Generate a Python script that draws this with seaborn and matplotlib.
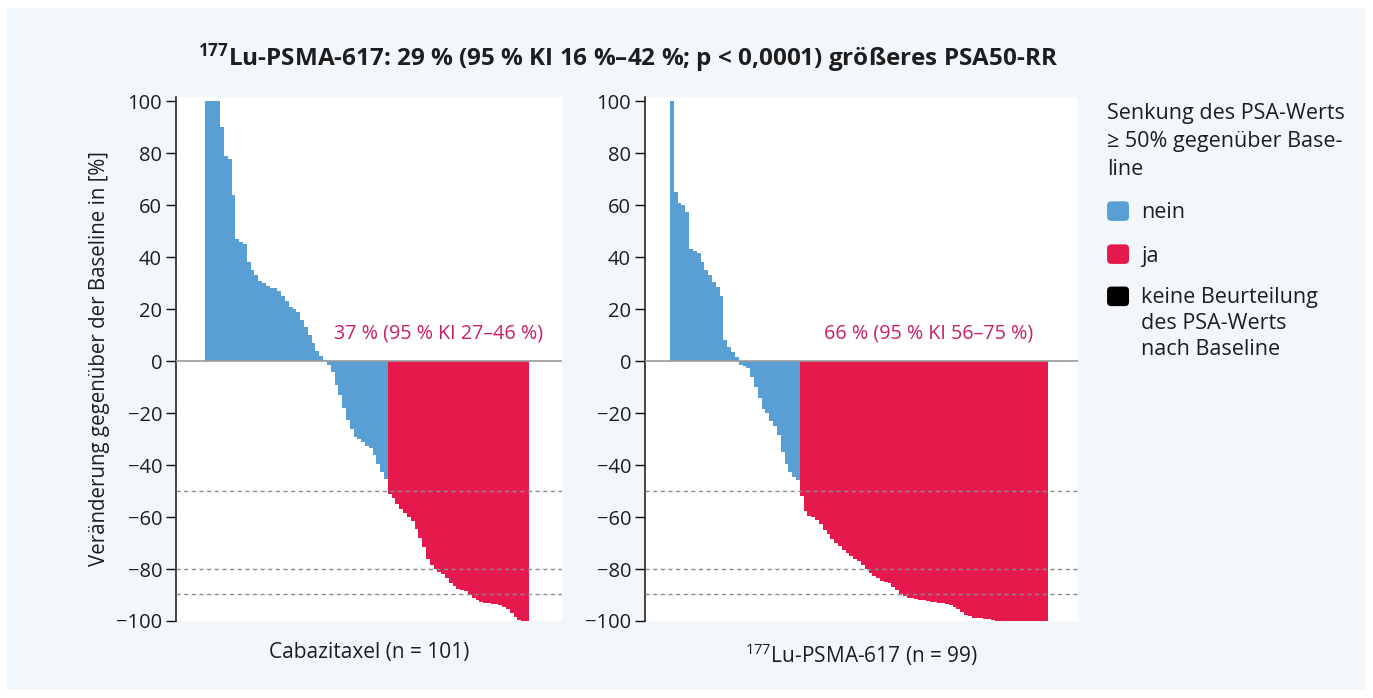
import matplotlib
matplotlib.use("Agg")
import matplotlib.pyplot as plt
import matplotlib.patches as mpatches
from matplotlib.legend_handler import HandlerPatch
import seaborn as sns
import pandas as pd

# ---------------- data ----------------
cabazitaxel_values = [
    100, 100, 100, 100, 90, 79, 78, 64, 47, 46, 45, 38, 35, 33, 31, 30,
    29, 28, 28, 27, 25, 23, 21, 20, 19, 16, 13, 10, 7, 4, 2, 0.5,
    -1.5, -4, -9, -13, -18, -22.5, -26, -29, -30, -31, -32.5, -33.5, -36, -39.5, -42.5, -45.5,
    -51, -52.5, -55, -57, -58.5, -60, -61.5, -64.5, -68, -71.5, -76, -78.5, -80, -81, -82,
    -83.5, -85.5, -86.5, -87.5, -88, -88.5, -90, -91, -92, -92.5, -93, -93.2, -93.4, -93.6,
    -94, -94.5, -95.5, -97, -98.5, -99.5, -100, -100,
]
lu_values = [
    100, 65, 61, 60, 57.5, 43, 42.5, 41.5, 38, 35, 33, 30.5, 28.5, 25, 8, 5.5, 3.5, 1.5,
    -1.5, -2, -2.5, -6, -10, -14, -18.5, -20, -23, -25, -28.5, -35, -39.5, -42.5, -44.5, -45.8,
    -52, -57.5, -59.5, -60, -61, -62.5, -65, -66.5, -68.5, -70, -71, -72.5, -74, -75, -76, -77,
    -78.5, -80, -81.5, -82.5, -83.5, -84.5, -85, -85.5, -87, -88, -89.5, -90.5, -91, -91.3,
    -91.5, -92, -92, -92.3, -92.5, -92.8, -93, -93, -93.5, -94, -94.5, -95.5, -96.5, -97.5,
    -98, -98.8, -99, -99, -99.2, -99.3, -99.5,
    -100, -100, -100, -100, -100, -100, -100, -100, -100, -100, -100, -100, -100, -100,
]
response_labels = ["nein", "ja", "keine Beurteilung\ndes PSA-Werts\nnach Baseline"]
reference_lines = [-50, -80, -89.5]
panel_labels = ["Cabazitaxel (n = 101)", r"$^{177}$Lu-PSMA-617 (n = 99)"]
panel_notes = ["37 % (95 % KI 27–46 %)", "66 % (95 % KI 56–75 %)"]
title_text = r"$\mathbf{^{177}}$Lu-PSMA-617: 29 % (95 % KI 16 %–42 %; p < 0,0001) größeres PSA50-RR"
legend_title = "Senkung des PSA-Werts\n≥ 50% gegenüber Base-\nline"
y_ticks = [-100, -80, -60, -40, -20, 0, 20, 40, 60, 80, 100]

# ---------------- style ----------------
BLUE = "#5a9fd3"
RED = "#e5194b"
BLACK = "#000000"
NOTE = "#c8206a"
BG = "#f2f7fb"
TXT = "#1e1e1e"

sns.set_theme(style="white")
plt.rcParams["font.family"] = ["Open Sans", "DejaVu Sans"]
plt.rcParams["mathtext.fontset"] = "custom"
plt.rcParams["mathtext.rm"] = "Open Sans"
plt.rcParams["mathtext.bf"] = "Open Sans:bold"
plt.rcParams["text.color"] = TXT
plt.rcParams["axes.labelcolor"] = TXT
plt.rcParams["xtick.color"] = TXT
plt.rcParams["ytick.color"] = TXT

W, H = 1373, 698
fig = plt.figure(figsize=(W / 100, H / 100), dpi=100, facecolor="white")
fig.patches.append(mpatches.Rectangle((7 / W, 8 / H), 1359 / W, 682 / H,
                                      transform=fig.transFigure, facecolor=BG,
                                      edgecolor="none", zorder=-10))

def px_axes(x0, x1, ytop, ybot):
    return fig.add_axes([x0 / W, 1 - ybot / H, (x1 - x0) / W, (ybot - ytop) / H])

ax1 = px_axes(176, 562, 97, 621)
ax2 = px_axes(645, 1078, 97, 621)

palette = {"nein": BLUE, "ja": RED}
panels = [
    (ax1, cabazitaxel_values, (-8.1, 93.2), panel_labels[0], panel_notes[0], 543),
    (ax2, lu_values, (-7.05, 106.35), panel_labels[1], panel_notes[1], 1033),
]
for ax, vals, xlim, xlabel, note, note_right in panels:
    df = pd.DataFrame({
        "idx": range(len(vals)),
        "val": vals,
        "resp": ["ja" if v <= -50 else "nein" for v in vals],
    })
    sns.barplot(data=df, x="idx", y="val", hue="resp", palette=palette,
                dodge=False, width=1.0, saturation=1, legend=False,
                linewidth=0, ax=ax, errorbar=None)
    ax.set_facecolor("white")
    ax.set_xlim(*xlim)
    ax.set_ylim(-100, 101.7)
    ax.axhline(0, color="#9a9a9a", lw=1.2, zorder=3)
    for yl in reference_lines:
        ax.axhline(yl, color="#8c8c8c", lw=1.0, ls=(0, (3, 2.5)), zorder=4)
    for s in ["top", "right", "bottom"]:
        ax.spines[s].set_visible(False)
    ax.spines["left"].set_color("#111111")
    ax.spines["left"].set_linewidth(1.1)
    ax.set_xticks([])
    ax.set_yticks(y_ticks)
    ax.tick_params(axis="y", left=True, length=7, width=1.0, labelsize=14.5,
                   pad=3, color="#111111")
    ax.set_xlabel(xlabel, fontsize=15, labelpad=15)
    ax.set_ylabel("")
    fig.text(note_right / W, 1 - 334 / H, note, color=NOTE, fontsize=14.2,
             ha="right", va="center")

ax1.set_ylabel("Veränderung gegenüber der Baseline in [%]", fontsize=14.8, labelpad=4)

fig.text(628 / W, 1 - 58 / H, title_text, fontsize=17.5, fontweight="bold",
         ha="center", va="center")

# legend
def rounded(legend, orig_handle, xdescent, ydescent, width, height, fontsize):
    dy = 0.0
    if orig_handle.get_facecolor()[:3] == (0.0, 0.0, 0.0):
        dy = 1.3 * fontsize  # align swatch with first line of the 3-line label
    return mpatches.FancyBboxPatch((-xdescent, -ydescent + dy), width, height,
                                   boxstyle="round,pad=0,rounding_size=3")

handles = [mpatches.Patch(facecolor=c, edgecolor="none") for c in (BLUE, RED, BLACK)]
leg = fig.legend(handles, response_labels, title=legend_title,
                 loc="upper left", bbox_to_anchor=(1092 / W, 1 - 88 / H),
                 frameon=False, fontsize=15.5, title_fontsize=15.5,
                 handlelength=1.02, handleheight=1.02, handletextpad=0.55,
                 labelspacing=0.97, borderpad=0.2, alignment="left",
                 handler_map={mpatches.Patch: HandlerPatch(patch_func=rounded)})
leg.get_title().set_linespacing(1.45)
for t in leg.get_texts():
    t.set_linespacing(1.3)

fig.savefig("out.png", dpi=100, facecolor="white")
